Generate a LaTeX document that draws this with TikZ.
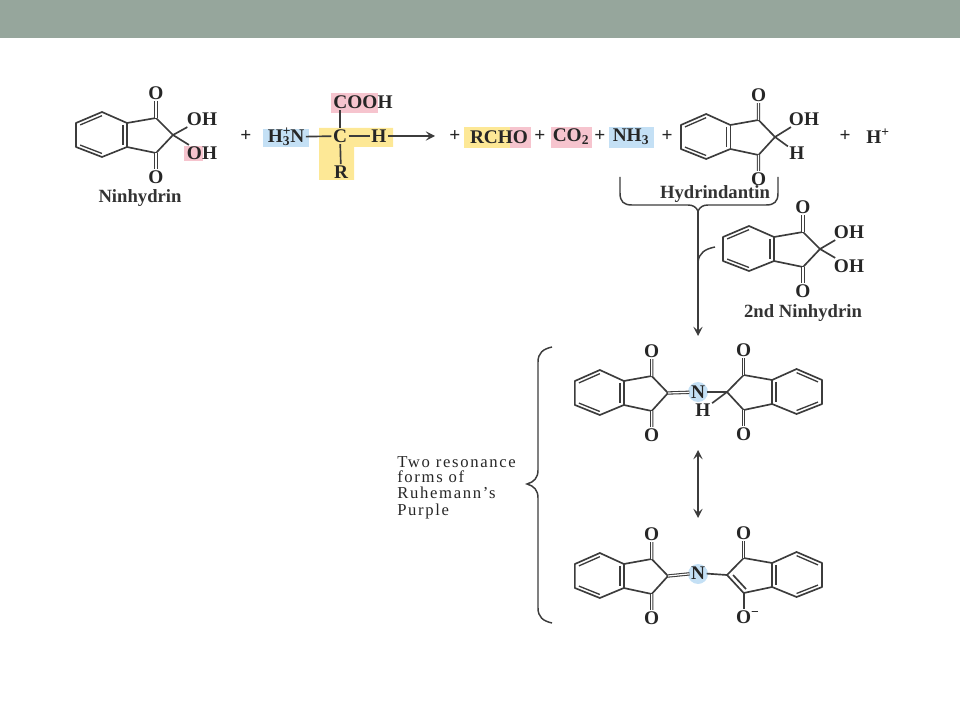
\documentclass[tikz,border=0pt]{standalone}
\usepackage{fontspec}
\setmainfont{Liberation Serif}
\newfontfamily\widefont[LetterSpace=10]{Liberation Serif}
\usetikzlibrary{arrows.meta,calc}
\definecolor{headbar}{RGB}{150,166,156}
\definecolor{inkgrey}{RGB}{60,60,60}
\definecolor{hlpink}{RGB}{246,196,206}
\definecolor{hlyellow}{RGB}{253,232,150}
\definecolor{hlblue}{RGB}{196,224,245}
\tikzset{
  bond/.style={draw=inkgrey,line width=1.25pt},
  dbond/.style={draw=inkgrey,double,double distance=.9pt,line width=.8pt},
  atom/.style={inner sep=1pt,text=black!85,font=\bfseries\fontsize{14.5}{16}\selectfont},
  lbl/.style={inner sep=0pt,text=black!80,font=\bfseries\fontsize{14}{15}\selectfont},
  longlbl/.style={inner sep=0pt,anchor=west,text=black!85,font=\widefont\fontsize{12.5}{14}\selectfont},
  barrow/.style={draw=inkgrey,line width=1.2pt,-{Stealth[length=7pt,width=7pt,inset=3pt]}},
  curly/.style={draw=inkgrey,line width=1.1pt},
  botbond/.style={dbond},
  lowo/.store in=\lowo,lowo=O,
  indane/.pic={
    \coordinate (-c2) at (0,0);
    \coordinate (-c1) at (-17,-17);
    \coordinate (-c3) at (-17,18);
    \coordinate (-fu) at (-46,-12);
    \coordinate (-fl) at (-46,12);
    \coordinate (-bt) at (-71,-23);
    \coordinate (-bb) at (-71,22);
    \coordinate (-ul) at (-97,-12);
    \coordinate (-ll) at (-97,12);
    \coordinate (-bc) at (-71,0);
    \coordinate (-rc) at (-28,0);
    \node[atom] (-o1) at (-17,-42) {O};
    \node[atom] (-o3) at (-17,42) {\lowo};
    \draw[bond,line join=round] (-c2) -- (-c1) -- (-fu) -- (-bt) -- (-ul) -- (-ll)
      -- (-bb) -- (-fl) -- (-c3) -- cycle;
    \draw[bond] (-fu) -- (-fl);
    \foreach \p/\q in {-bt/-ul,-bb/-ll,-fu/-fl}
      \draw[bond,line width=1pt] ($(\p)!.16!(-bc)$) -- ($(\q)!.16!(-bc)$);
    \draw[dbond] (-c1) -- (-o1);
    \draw[botbond] (-c3) -- (-o3);
  }
}
\begin{document}
\begin{tikzpicture}[x=0.75pt,y=-0.75pt]
  \useasboundingbox (0,0) rectangle (960,720);
  \fill[headbar] (0,0) rectangle (960,38);
  % highlights
  \fill[hlpink] (331,93) rectangle (378,113);
  \fill[hlpink] (184,146) rectangle (203,161);
  \fill[hlblue] (263,129) rectangle (309,147);
  \fill[hlyellow] (319,128) -| (393,147) -| (354,180) -| cycle;
  \fill[hlyellow] (464,127) rectangle (510,148);
  \fill[hlpink] (510,127) rectangle (531,148);
  \fill[hlpink] (551,127) rectangle (592,148);
  \fill[hlblue] (609,127) rectangle (654,148);
  \fill[hlblue] (698,392) circle (10);
  \fill[hlblue] (698,574) circle (10);

  % ninhydrin
  \pic (nin) at (173,135) {indane};
  \node[atom] (ninoh1) at (202,119) {OH};
  \node[atom] (ninoh2) at (202,153) {OH};
  \node[lbl]  (ninname) at (140,198) {Ninhydrin};
  \draw[bond] (nin-c2) -- (ninoh1);
  \draw[bond] (nin-c2) -- (ninoh2);

  % amino acid
  \node[atom] (plusa) at (246,136) {+};
  \node[atom] (amn) at (286,137) {H\rlap{\textsuperscript{+}}\textsubscript{3}N};
  \node[atom] (acc) at (340,136) {C};
  \node[atom] (ach) at (379,136) {H};
  \node[atom] (cooh) at (363,102) {COOH};
  \node[atom] (acr) at (341,172) {R};
  \coordinate (coohc) at (340,102);
  \draw[bond] (amn) -- (acc);
  \draw[bond] (acc) -- (ach);
  \draw[bond] (acc) -- (coohc |- cooh.south);
  \draw[bond] (acc) -- (acr);
  \coordinate (rxnend) at (435,136);
  \draw[barrow] (ach) -- (rxnend);

  % products
  \node[atom] (plusb) at (455,136) {+};
  \node[atom] (rcho) at (499,137) {RCHO};
  \node[atom] (plusc) at (540,136) {+};
  \node[atom] (co2) at (571,137) {CO\textsubscript{2}};
  \node[atom] (plusd) at (600,136) {+};
  \node[atom] (nh3) at (631,137) {NH\textsubscript{3}};
  \node[atom] (pluse) at (667,136) {+};
  \pic[xscale=.97] (hyd) at (775,137) {indane};
  \node[atom] (hydoh) at (804,119) {OH};
  \node[atom] (hydh) at (797,153) {H};
  \node[lbl]  (hydname) at (715,194) {Hydrindantin};
  \draw[bond] (hyd-c2) -- (hydoh);
  \draw[bond] (hyd-c2) -- (hydh);
  \node[atom] (plusf) at (845,136) {+};
  \node[atom] (hplus) at (878,136) {H\textsuperscript{+}};

  % brace under the products
  \coordinate (hbl) at (620,177);
  \coordinate (hbr) at (778,177);
  \coordinate (hbtip) at (698,211);
  \coordinate (mainend) at (698,336);
  \draw[curly] (hbl) -- (620,193) .. controls (620,202) and (624,205) .. (632,205)
    -- (688,205) .. controls (693,205) and (696,207) .. (hbtip)
    .. controls (700,207) and (703,205) .. (708,205) -- (766,205)
    .. controls (774,205) and (778,202) .. (778,193) -- (hbr);
  \draw[barrow] (hbtip) -- (mainend);

  % second ninhydrin
  \pic (ninb) at (820,249) {indane};
  \node[atom] (ninboh1) at (849,232) {OH};
  \node[atom] (ninboh2) at (849,266) {OH};
  \node[lbl]  (ninbname) at (803,313) {2nd Ninhydrin};
  \draw[bond] (ninb-c2) -- (ninboh1);
  \draw[bond] (ninb-c2) -- (ninboh2);
  \coordinate (joinstart) at (715,247);
  \coordinate (joinend) at (698,262);
  \draw[curly] (joinstart) .. controls (705,249) and (699,253) .. (joinend);

  % first resonance form
  \pic[xscale=.96] (pura) at (668,393) {indane};
  \pic[xscale=-.98] (purb) at (727,392) {indane};
  \node[atom] (puran) at (698,392) {N};
  \node[atom] (purah) at (703,410) {H};
  \draw[dbond] (pura-c2) -- (puran);
  \draw[bond] (puran) -- (purb-c2);
  \draw[bond] (purb-c2) -- (purah);

  % resonance arrow
  \coordinate (resa) at (698,450);
  \coordinate (resb) at (698,518);
  \draw[barrow,{Stealth[length=7pt,width=7pt,inset=3pt]}-{Stealth[length=7pt,width=7pt,inset=3pt]}] (resa) -- (resb);

  % second resonance form
  \pic[xscale=.96] (purc) at (668,576) {indane};
  \pic[xscale=-.98,botbond/.style={bond},lowo={O\rlap{\textsuperscript{−}}}] (purd) at (727,575) {indane};
  \node[atom] (purcn) at (698,573) {N};
  \draw[dbond] (purc-c2) -- (purcn);
  \draw[bond] (purcn) -- (purd-c2);
  \draw[bond] ($(purd-c2)!.22!(purd-rc)$) -- ($(purd-c3)!.22!(purd-rc)$);

  % big brace and its label
  \coordinate (bbtop) at (552,347);
  \coordinate (bbtip) at (527,484);
  \coordinate (bbbot) at (552,623);
  \draw[curly] (bbtop) .. controls (543,349) and (538,353) .. (538,362) -- (538,470)
    .. controls (538,478) and (534,482) .. (bbtip)
    .. controls (534,486) and (538,490) .. (538,498) -- (538,608)
    .. controls (538,617) and (543,621) .. (bbbot);
  \node[longlbl] (lblone) at (397,462) {Two resonance};
  \node[longlbl] (lbltwo) at (397,477) {forms of};
  \node[longlbl] (lblthree) at (397,493) {Ruhemann’s};
  \node[longlbl] (lblfour) at (397,511) {Purple};
\end{tikzpicture}
\end{document}
